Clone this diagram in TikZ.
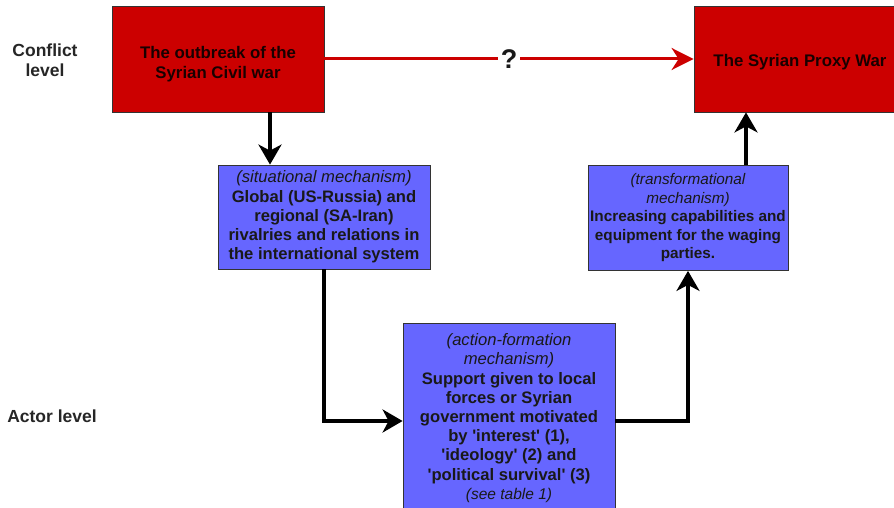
\documentclass[tikz,border=0pt]{standalone}
\usepackage{fontspec}
\setmainfont{Liberation Sans}
\usepackage{tikz}
\usetikzlibrary{arrows.meta}
\definecolor{boxred}{HTML}{CC0000}
\definecolor{boxblue}{HTML}{6666FF}
\tikzstyle{redbox}=[draw=black!80, fill=boxred, line width=0.8pt, align=center, inner sep=2pt, minimum width=212pt, minimum height=106pt, font=\fontsize{16.8}{19.5}\selectfont\bfseries, text=black!90!red]
\tikzstyle{mechbox}=[draw=black!80, fill=boxblue, line width=0.8pt, align=center, inner sep=2pt, minimum width=212pt, font=\fontsize{16.6}{19.2}\selectfont\bfseries, text=black!90]
\tikzstyle{levelsty}=[align=center, font=\fontsize{17.5}{20}\selectfont\bfseries, text=black!85]
\tikzstyle{edge}=[line width=4.5pt]
\tikzstyle{dedge}=[edge,-{Stealth[length=20pt,width=23pt,inset=6pt]}]
\tikzstyle{redge}=[line width=3pt, draw=boxred, -{Stealth[length=22pt,width=22pt,inset=7pt]}]
\newcommand{\mech}[1]{{\mdseries\itshape #1}}
\newcommand{\q}{\textquotesingle}

\begin{document}
\begin{tikzpicture}[x=1pt,y=-1pt]
					\useasboundingbox (0,0) rectangle (894,508);
					
					\node[levelsty] (cl) at (45,60) {Conflict\\level};
					\node[levelsty] (al) at (52,416) {Actor level};
					
					\node[redbox] (outb) at (218,59) {\rule{0pt}{22pt}The outbreak of the\\Syrian Civil war};
					\node[redbox] (proxy) at (800,59) {\rule{0pt}{18pt}The Syrian Proxy War};
					
					\node[mechbox, minimum height=104pt] (sit) at (324,217) {\mech{(situational mechanism)}\\Global (US-Russia) and\\regional (SA-Iran)\\rivalries and relations in\\the international system};
					\node[mechbox, minimum width=200pt, minimum height=105pt, font=\fontsize{15.3}{18.5}\selectfont\bfseries] (trans) at (688,218) {\mech{(transformational}\\\mech{mechanism)}\\Increasing capabilities and\\equipment for the waging\\parties.};
					\node[mechbox, minimum height=190pt] (act) at (509,418) {\mech{(action-formation}\\\mech{mechanism)}\\Support given to local\\forces or Syrian\\government motivated\\by \q interest\q{} (1),\\\q ideology\q{} (2) and\\\q political survival\q{} (3)\\\mech{\fontsize{15.5}{19.2}\selectfont(see table 1)}};
					
					\draw[redge] (outb.east) -- node[fill=white, inner sep=3pt, font=\fontsize{27}{27}\selectfont\bfseries, text=black!90]{?} (proxy.west);
					\draw[dedge] ([xshift=52pt]outb.south) -- ([xshift=52pt]outb.south |- sit.north);
					\draw[dedge] (sit.south) |- ([yshift=-3pt]act.west);
					\draw[dedge] ([yshift=-3pt]act.east) -| (trans.south);
					\draw[dedge] ([xshift=58pt]trans.north) -- ([xshift=58pt]trans.north |- proxy.south);
				\end{tikzpicture}
\end{document}
